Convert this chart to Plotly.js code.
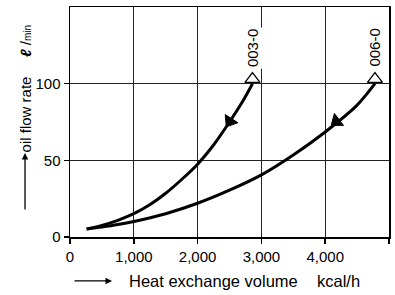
<!DOCTYPE html>
<html>
<head>
<meta charset="utf-8">
<script src="https://cdn.plot.ly/plotly-3.0.1.min.js"></script>
<style>html,body{margin:0;padding:0;background:#fff;}#chart{width:395px;height:295px;}</style>
</head>
<body>
<div id="chart"></div>
<script>
// Heat exchange volume (kcal/h) vs oil flow rate (l/min)
var model003X = [261, 500, 750, 1000, 1250, 1500, 1750, 2000, 2250, 2500, 2700, 2860];
var model003Y = [5.2, 7.6, 10.9, 15.2, 21, 28.5, 37.5, 47.5, 60, 75, 88, 100];
var model006X = [261, 500, 750, 1000, 1500, 2000, 2500, 3000, 3500, 4000, 4500, 4780];
var model006Y = [5.2, 6.5, 8.1, 10.1, 15.2, 22, 30.5, 40.5, 53.5, 68.5, 86, 100];
// direction arrows on the curves: [point before, arrow point]
var arrow003X = [2700, 2505];
var arrow003Y = [88, 75.4];
var arrow006X = [4400, 4175];
var arrow006Y = [82.5, 75.4];
// end markers and model labels
var endX = [2860, 4780];
var endY = [103, 103];
var modelLabels = ['003-0', '006-0'];
var labelY = [123.5, 123.5];
var xTicks = [0, 1000, 2000, 3000, 4000, 5000];
var xTickText = ['0', '1,000', '2,000', '3,000', '4,000', '5,000'];
var yTicks = [0, 50, 100];
var xTitle = ['Heat exchange volume', 'kcal/h'];
var yTitle = ['oil flow rate', '<i><b>\u2113</b></i> /<span style="font-size:10px">min</span>'];

var font = 'Liberation Sans, Arial, Helvetica, sans-serif';
var lineStyle = {color: '#000', width: 3, shape: 'spline', smoothing: 0.8};
var arrowMarker = {symbol: 'triangle-up', size: [0, 13], color: '#000', opacity: 1,
                   line: {width: [0, 1], color: '#000'}, angleref: 'previous'};

var traces = [
  {x: model003X, y: model003Y, mode: 'lines', line: lineStyle, hoverinfo: 'skip'},
  {x: model006X, y: model006Y, mode: 'lines', line: lineStyle, hoverinfo: 'skip'},
  {x: arrow003X, y: arrow003Y, mode: 'markers', marker: arrowMarker},
  {x: arrow006X, y: arrow006Y, mode: 'markers', marker: arrowMarker},
  {x: endX, y: endY, mode: 'markers',
   marker: {symbol: 'triangle-up-open', size: 13, color: '#000', line: {width: 1.3, color: '#000'}}}
];

var annotations = modelLabels.map(function (t, i) {
  return {x: endX[i], y: labelY[i], xref: 'x', yref: 'y', text: t, showarrow: false,
          textangle: -90, bgcolor: '#fff', borderpad: 1,
          font: {family: font, size: 15, color: '#000'}};
});
var tf = function (s) { return {family: font, size: s, color: '#000'}; };
// x axis title
annotations.push({xref: 'paper', yref: 'paper', x: 0.1317, y: -0.191, ax: -39, ay: 0,
  axref: 'pixel', ayref: 'pixel', text: '', showarrow: true, arrowhead: 2, arrowsize: 1,
  arrowwidth: 1.3, arrowcolor: '#000'});
annotations.push({xref: 'paper', yref: 'paper', x: 0.1787, y: -0.191, xanchor: 'left', yanchor: 'middle',
  text: xTitle[0], showarrow: false, font: tf(16.5)});
annotations.push({xref: 'paper', yref: 'paper', x: 0.768, y: -0.191, xanchor: 'left', yanchor: 'middle',
  text: xTitle[1], showarrow: false, font: tf(16.5)});
// y axis title
annotations.push({xref: 'paper', yref: 'paper', x: -0.141, y: 0.365, ax: 0, ay: 58,
  axref: 'pixel', ayref: 'pixel', text: '', showarrow: true, arrowhead: 2, arrowsize: 1,
  arrowwidth: 1.3, arrowcolor: '#000'});
annotations.push({xref: 'paper', yref: 'paper', x: -0.141, y: 0.533, xanchor: 'center', yanchor: 'middle',
  text: yTitle[0], textangle: -90, showarrow: false, font: tf(15)});
annotations.push({xref: 'paper', yref: 'paper', x: -0.141, y: 0.852, xanchor: 'center', yanchor: 'middle',
  text: yTitle[1], textangle: -90, showarrow: false, font: tf(15)});

var layout = {
  width: 395, height: 295,
  margin: {l: 70, r: 6, t: 7, b: 58},
  paper_bgcolor: '#fff', plot_bgcolor: '#fff',
  showlegend: false,
  font: {family: font, size: 15, color: '#000'},
  xaxis: {
    range: [0, 5000], tickvals: xTicks, ticktext: xTickText,
    tickfont: tf(15),
    showgrid: true, gridcolor: '#222', gridwidth: 1.2,
    showline: true, linecolor: '#000', linewidth: 1.5, mirror: true,
    ticks: 'outside', ticklen: 5, tickwidth: 1.5, tickcolor: '#000',
    zeroline: false
  },
  yaxis: {
    range: [0, 150], tickvals: yTicks,
    tickfont: tf(15),
    showgrid: true, gridcolor: '#222', gridwidth: 1.2,
    showline: true, linecolor: '#000', linewidth: 1.5, mirror: true,
    ticks: 'outside', ticklen: 5, tickwidth: 1.5, tickcolor: '#000',
    zeroline: false
  },
  annotations: annotations
};

Plotly.newPlot('chart', traces, layout, {staticPlot: true, displayModeBar: false});
</script>
</body>
</html>
